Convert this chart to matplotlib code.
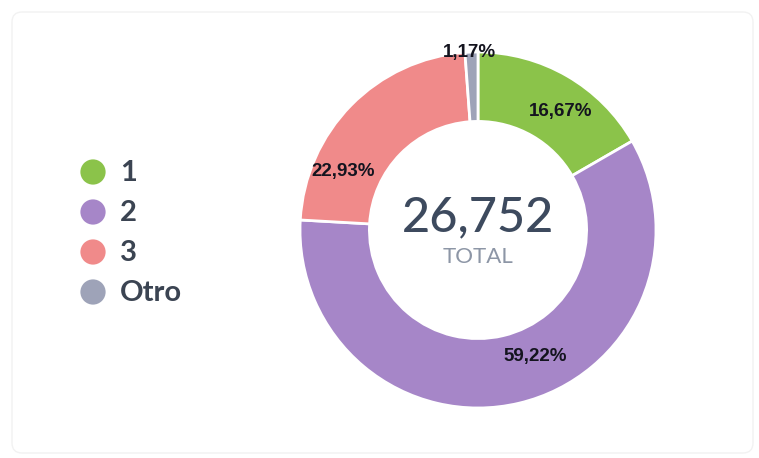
import matplotlib
matplotlib.use("Agg")
import matplotlib.pyplot as plt
from matplotlib.patches import FancyBboxPatch
import numpy as np

categories = ["1", "2", "3", "Otro"]
values = [16.67, 59.22, 22.93, 1.17]
value_labels = ["16,67%", "59,22%", "22,93%", "1,17%"]
total_label = "26,752"
colors = ["#8bc34a", "#a686c8", "#f08a8a", "#9ea3b8"]
# label placement (angle deg, radius in outer-radius units)
label_pos = [(55.2, 0.81), (-65.7, 0.78), (156.7, 0.825), (92.6, 1.0)]

W, H = 759, 458
fig = plt.figure(figsize=(W / 100, H / 100), dpi=100)
fig.patch.set_facecolor("white")

# background axes in pixel coordinates
bg = fig.add_axes([0, 0, 1, 1])
bg.set_xlim(0, W)
bg.set_ylim(H, 0)
bg.axis("off")
card = FancyBboxPatch((12, 12), 741, 441, boxstyle="round,pad=0,rounding_size=10",
                      facecolor="white", edgecolor="#f2f2f2", linewidth=1.0)
bg.add_patch(card)

# legend
leg_x, leg_y0, leg_dy = 93, 172, 40
for i, (cat, col) in enumerate(zip(categories, colors)):
    y = leg_y0 + i * leg_dy
    bg.scatter([leg_x], [y], s=330, color=col, edgecolors="none", zorder=3)
    bg.text(leg_x + 27, y + 1, cat, fontsize=21, family="Lato", fontweight="bold",
            color="#3b4452", va="center", ha="left")

# donut
cx, cy, R = 478, 228, 178
lim = 1.1
size = 2 * lim * R
ax = fig.add_axes([(cx - size / 2) / W, (cy - size / 2) / H, size / W, size / H])
ax.pie(values, colors=colors, startangle=90, counterclock=False, radius=1.0,
       wedgeprops=dict(width=0.39, edgecolor="white", linewidth=2))
ax.set_xlim(-lim, lim)
ax.set_ylim(-lim, lim)
ax.set_aspect("equal")
ax.axis("off")

for lab, (ang, r) in zip(value_labels, label_pos):
    a = np.deg2rad(ang)
    ax.text(r * np.cos(a), r * np.sin(a), lab, ha="center", va="center",
            fontsize=13.5, fontweight="bold", family="Liberation Sans",
            color="#14141f", zorder=5)

ax.text(0, 0.07, total_label, ha="center", va="center", fontsize=35,
        family="Lato", fontweight="medium", color="#3d4a5e")
ax.text(0, -0.15, "TOTAL", ha="center", va="center", fontsize=16,
        family="Lato", color="#8d96a6")

fig.savefig("out.png", dpi=100, facecolor="white")
